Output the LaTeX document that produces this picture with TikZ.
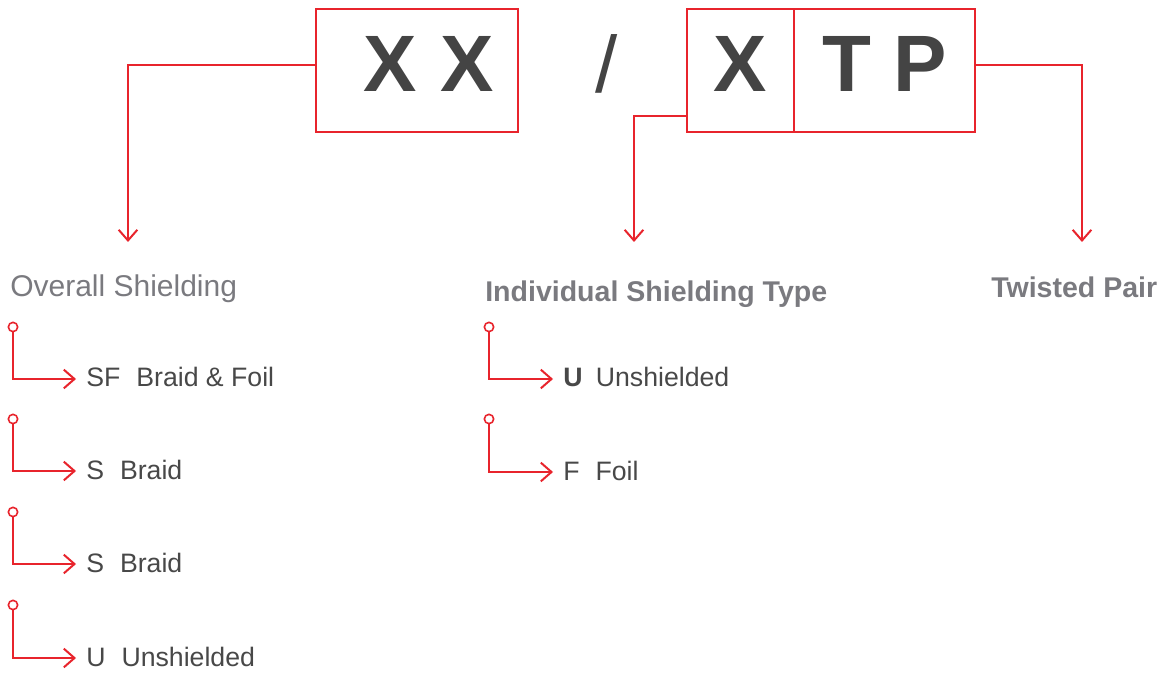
\documentclass[tikz,border=0pt]{standalone}
\usepackage{fontspec}
\setmainfont{Liberation Sans}
\usetikzlibrary{arrows.meta}
\definecolor{cablered}{RGB}{232,36,44}
\definecolor{codegray}{RGB}{68,68,68}
\definecolor{headgray}{RGB}{122,122,127}
\definecolor{itemgray}{RGB}{72,72,72}
\tikzstyle{box}=[draw=cablered, line width=1.8pt, outer sep=0pt, inner sep=0pt, minimum height=92.25pt, text height=42.75pt, text depth=10.5pt, text=codegray, font=\fontsize{60}{60}\selectfont\bfseries]
\tikzstyle{head}=[anchor=base west, inner sep=0pt, text=headgray, font=\fontsize{21.4}{25}\selectfont\bfseries]
\tikzstyle{item}=[anchor=base west, inner sep=0pt, text height=12pt, text depth=0pt, text=itemgray, font=\fontsize{20}{24}\selectfont]
\tikzstyle{dot}=[circle, draw=cablered, fill=white, line width=1.2pt, inner sep=0pt, minimum size=7pt]
\tikzstyle{link}=[draw=cablered, line width=1.5pt, -{Straight Barb[length=8pt,width=14pt]}]
\tikzstyle{lead}=[link, shorten >=7.5pt]

\begin{document}
\begin{tikzpicture}[x=0.75pt, y=-0.75pt]
	\useasboundingbox (0,0) rectangle (1167,673);
	% code boxes
	 \node [box, minimum width=151.5pt] (xx) at (417,70.5) {\hspace{18pt}X\hspace{18pt}X};
	 \node [inner sep=0pt, text=codegray, font=\fontsize{60}{60}\selectfont] (slash) at (607,64) {/};
	 \node [box, minimum width=80.25pt] (x) at (740.5,70.5) {X\hspace{9pt}};
	 \node [box, minimum width=135.75pt] (tp) at (884.5,70.5) {T\hspace{17pt}P};

	% headings
	 \node [head, font=\fontsize{22.5}{27}\selectfont] (os) at (10,297) {Overall Shielding};
	 \node [head] (ist) at (485,302) {Individual Shielding Type};
	 \node [head] (twp) at (991,298) {Twisted Pair};

	 \coordinate (os-tip) at (128,242);
	 \coordinate (ist-tip) at (634,242);
	 \coordinate (twp-tip) at (1082,242);

	% overall shielding items
	 \node [dot] (d1) at (13,327) {};
	 \node [dot] (d2) at (13,419) {};
	 \node [dot] (d3) at (13,512) {};
	 \node [dot] (d4) at (13,605) {};
	 \node [item] (sf) at (86,387) {SF\hspace{0.6em}Braid \& Foil};
	 \node [item] (s1) at (86,479) {S\hspace{0.6em}Braid};
	 \node [item] (s2) at (86,572) {S\hspace{0.6em}Braid};
	 \node [item] (u1) at (86,666) {U\hspace{0.6em}Unshielded};

	% individual shielding items
	 \node [dot] (d5) at (489,327) {};
	 \node [dot] (d6) at (489,419) {};
	 \node [item] (u2) at (563,387) {\textbf{U}\hspace{0.5em}Unshielded};
	 \node [item] (f) at (563,480) {F\hspace{0.6em}Foil};

	% arrows
	 \draw [link] ([yshift=4pt]xx.west) -| (os-tip);
	 \draw [link] ([yshift=12pt]x.south west) -| (ist-tip);
	 \draw [link] ([yshift=4pt]tp.east) -| (twp-tip);

	 \draw [lead] (d1) |- (sf.west);
	 \draw [lead] (d2) |- (s1.west);
	 \draw [lead] (d3) |- (s2.west);
	 \draw [lead] (d4) |- (u1.west);
	 \draw [lead] (d5) |- (u2.west);
	 \draw [lead] (d6) |- (f.west);
\end{tikzpicture}
\end{document}
